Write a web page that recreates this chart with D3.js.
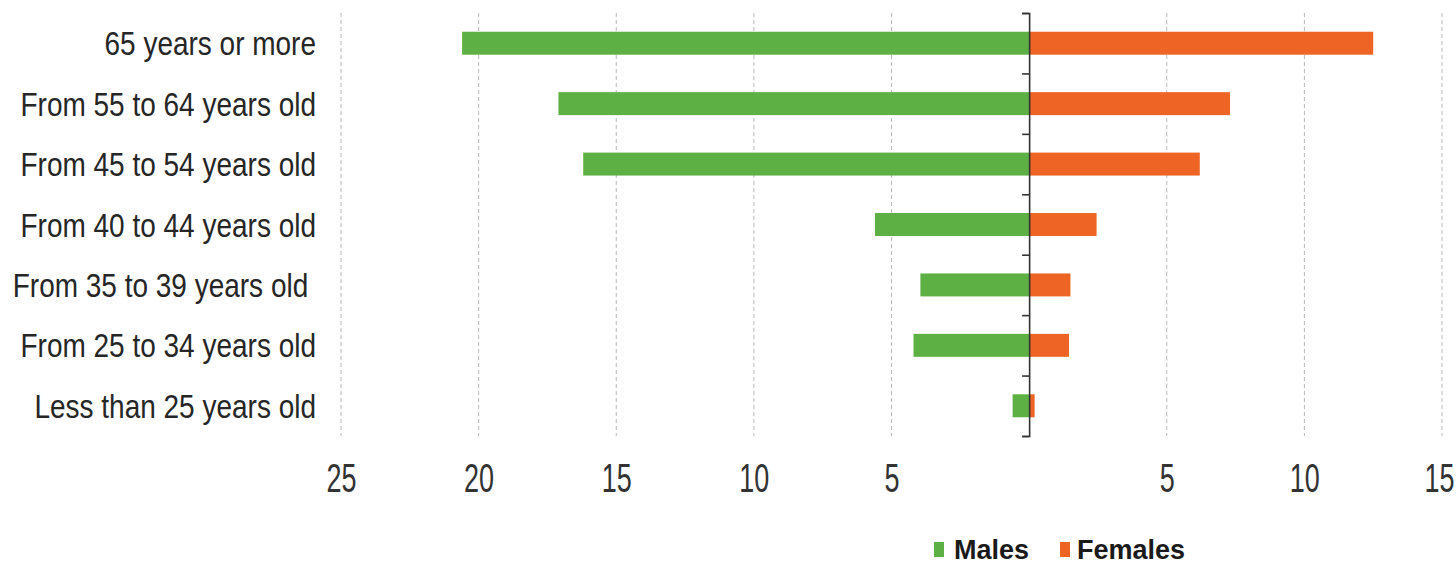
<!DOCTYPE html>
<html>
<head>
<meta charset="utf-8">
<script src="https://cdn.jsdelivr.net/npm/d3@7"></script>
<style>
  html, body { margin: 0; padding: 0; background: #fff; }
  svg { display: block; }
  text { font-family: "Liberation Sans Narrow", "Arial Narrow", "Liberation Sans", sans-serif; }
</style>
</head>
<body>
<svg id="chart" width="1456" height="565"></svg>
<script>
const categories = [
  "65 years or more",
  "From 55 to 64 years old",
  "From 45 to 54 years old",
  "From 40 to 44 years old",
  "From 35 to 39 years old ",
  "From 25 to 34 years old",
  "Less than 25 years old"
];
const males   = [20.6, 17.1, 16.2, 5.6, 3.95, 4.2, 0.6];
const females = [12.5, 7.3, 6.2, 2.45, 1.5, 1.45, 0.2];
const xTicks  = [-25, -20, -15, -10, -5, 0, 5, 10, 15];
const seriesNames = ["Males", "Females"];
const colors = ["#5DB043", "#EE6424"];

const svg = d3.select("#chart");
const plotLeft = 341, plotRight = 1442, plotTop = 13, plotBottom = 436;

const x = d3.scaleLinear().domain([-25, 15]).range([plotLeft, plotRight]);
const y = d3.scaleBand().domain(categories).range([plotTop, plotBottom])
  .paddingInner(0.62).paddingOuter(0.31);
const yEdges = d3.scaleLinear().domain([0, categories.length]).range([plotTop, plotBottom]);

// gridlines
svg.append("g").selectAll("line")
  .data(xTicks.filter(d => d !== 0))
  .join("line")
  .attr("x1", d => x(d)).attr("x2", d => x(d))
  .attr("y1", plotTop).attr("y2", plotBottom)
  .attr("stroke", "#b8b8b8").attr("stroke-width", 1)
  .attr("stroke-dasharray", "4,3");

// bars
const rows = categories.map((c, i) => ({c, m: males[i], f: females[i]}));
svg.append("g").selectAll("rect")
  .data(rows).join("rect")
  .attr("x", d => x(-d.m)).attr("width", d => x(0) - x(-d.m))
  .attr("y", d => y(d.c)).attr("height", y.bandwidth())
  .attr("fill", colors[0]);
svg.append("g").selectAll("rect")
  .data(rows).join("rect")
  .attr("x", x(0)).attr("width", d => x(d.f) - x(0))
  .attr("y", d => y(d.c)).attr("height", y.bandwidth())
  .attr("fill", colors[1]);

// vertical axis at zero with boundary ticks
const yAxis = svg.append("g")
  .attr("transform", `translate(${x(0)},0)`)
  .call(d3.axisLeft(yEdges).ticks(categories.length).tickFormat("").tickSize(7).tickSizeOuter(7));
yAxis.selectAll("path, line").attr("stroke", "#333").attr("stroke-width", 1.6);

// category labels (tall, narrow-looking glyphs)
svg.append("g").selectAll("text")
  .data(categories).join("text")
  .attr("transform", d => `translate(316,${y(d) + y.bandwidth() / 2}) scale(1,1.2)`)
  .attr("dy", "0.36em")
  .attr("text-anchor", "end")
  .style("white-space", "pre")
  .attr("font-size", 28).attr("fill", "#262626")
  .text(d => d);

// x tick labels
const xAxis = svg.append("g")
  .attr("transform", `translate(0,477)`)
  .call(d3.axisBottom(x).tickValues(xTicks).tickSize(0)
    .tickFormat(d => d === 0 ? "" : String(Math.abs(d))));
xAxis.select(".domain").remove();
xAxis.selectAll("text")
  .attr("y", 0).attr("dy", "0.36em")
  .attr("dx", d => d === 15 ? -3 : 0)
  .attr("transform", "scale(1,1.5)")
  .attr("font-size", 27).attr("fill", "#333");

// legend
const legend = svg.append("g").attr("transform", "translate(934,549)");
const legendX = [0, 126];
const textOffset = [20, 17];
seriesNames.forEach((name, i) => {
  const g = legend.append("g").attr("transform", `translate(${legendX[i]},0)`);
  g.append("rect").attr("x", 0).attr("y", -7).attr("width", 10).attr("height", 15).attr("fill", colors[i]);
  g.append("text").attr("x", textOffset[i]).attr("y", 0).attr("dy", "0.36em")
    .attr("font-size", 27).attr("font-weight", "bold").attr("fill", "#1a1a1a")
    .text(name);
});
</script>
</body>
</html>
